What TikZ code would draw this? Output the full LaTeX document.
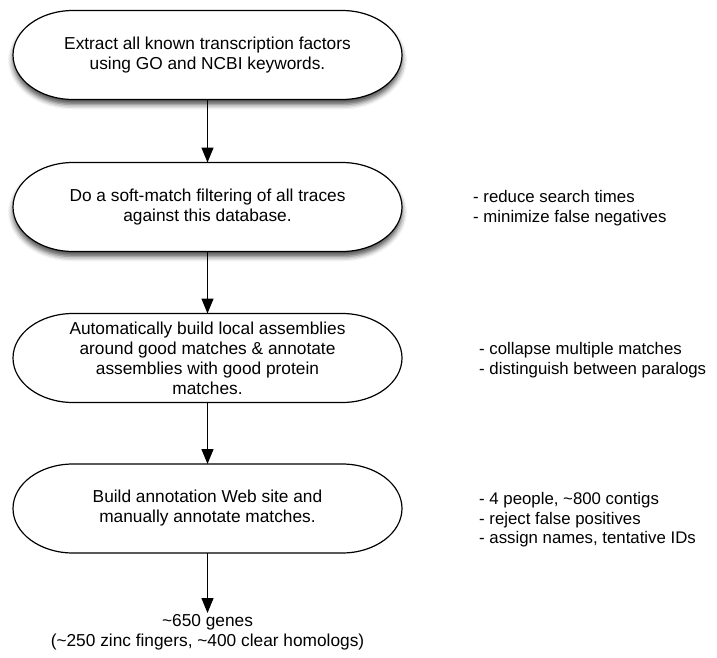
\documentclass[tikz,border=0pt]{standalone}
\usepackage{fontspec}
\setmainfont{Liberation Sans}
\usetikzlibrary{arrows.meta,calc,shadows.blur}
\pgfdeclarelayer{background}
\pgfsetlayers{background,main}
\newcommand\stadiumshape[2][]{%
  \draw[boxline,#1] ($(#2.north west)+(60pt,0pt)$) -- ($(#2.north east)+(-60pt,0pt)$)
    arc[start angle=90,end angle=-90,x radius=60pt,y radius=44.5pt]
    -- ($(#2.south west)+(60pt,0pt)$)
    arc[start angle=270,end angle=90,x radius=60pt,y radius=44.5pt] -- cycle;}
\begin{document}
\begin{tikzpicture}[x=1pt,y=1pt,
  font=\fontsize{17.3}{20}\selectfont,
  stepbox/.style={minimum width=389pt,minimum height=89pt,inner sep=0pt,outer sep=0pt,align=center},
  boxline/.style={draw=black,line width=1.2pt,fill=white},
  shadowed/.style={blur shadow={shadow xshift=0pt,shadow yshift=-5pt,shadow blur radius=5pt,shadow opacity=70}},
  note/.style={anchor=west,align=left,inner sep=0pt,font=\fontsize{16.8}{19.5}\selectfont},
  flow/.style={draw=black,line width=1.3pt,-{Triangle[width=12pt,length=15pt,fill=black]}}]
\useasboundingbox (0,0) rectangle (717,-658);
\node[stepbox] (s1) at (207.5,-55) {Extract all known transcription factors\\using GO and NCBI keywords.};
\node[stepbox] (s2) at (207.5,-207) {Do a soft-match filtering of all traces\\against this database.};
\node[stepbox] (s3) at (207.5,-358) {Automatically build local assemblies\\around good matches \& annotate\\assemblies with good protein\\matches.};
\node[stepbox] (s4) at (207.5,-508.5) {Build annotation Web site and\\manually annotate matches.};
\node[align=center,inner sep=1pt,anchor=north] (res) at (207.5,-613) {\textasciitilde650 genes\\(\textasciitilde250 zinc fingers, \textasciitilde400 clear homologs)};
\node[note] (n2) at (473,-208) {- reduce search times\\- minimize false negatives};
\node[note] (n3) at (479,-360) {- collapse multiple matches\\- distinguish between paralogs};
\node[note] (n4) at (479,-520) {- 4 people, \textasciitilde800 contigs\\- reject false positives\\- assign names, tentative IDs};
\begin{pgfonlayer}{background}
  \stadiumshape[shadowed]{s1}
  \stadiumshape[shadowed]{s2}
  \stadiumshape{s3}
  \stadiumshape{s4}
\end{pgfonlayer}
\draw[flow] (s1.south) -- (s2.north);
\draw[flow] (s2.south) -- (s3.north);
\draw[flow] (s3.south) -- (s4.north);
\draw[flow] (s4.south) -- (res.north);
\end{tikzpicture}
\end{document}
